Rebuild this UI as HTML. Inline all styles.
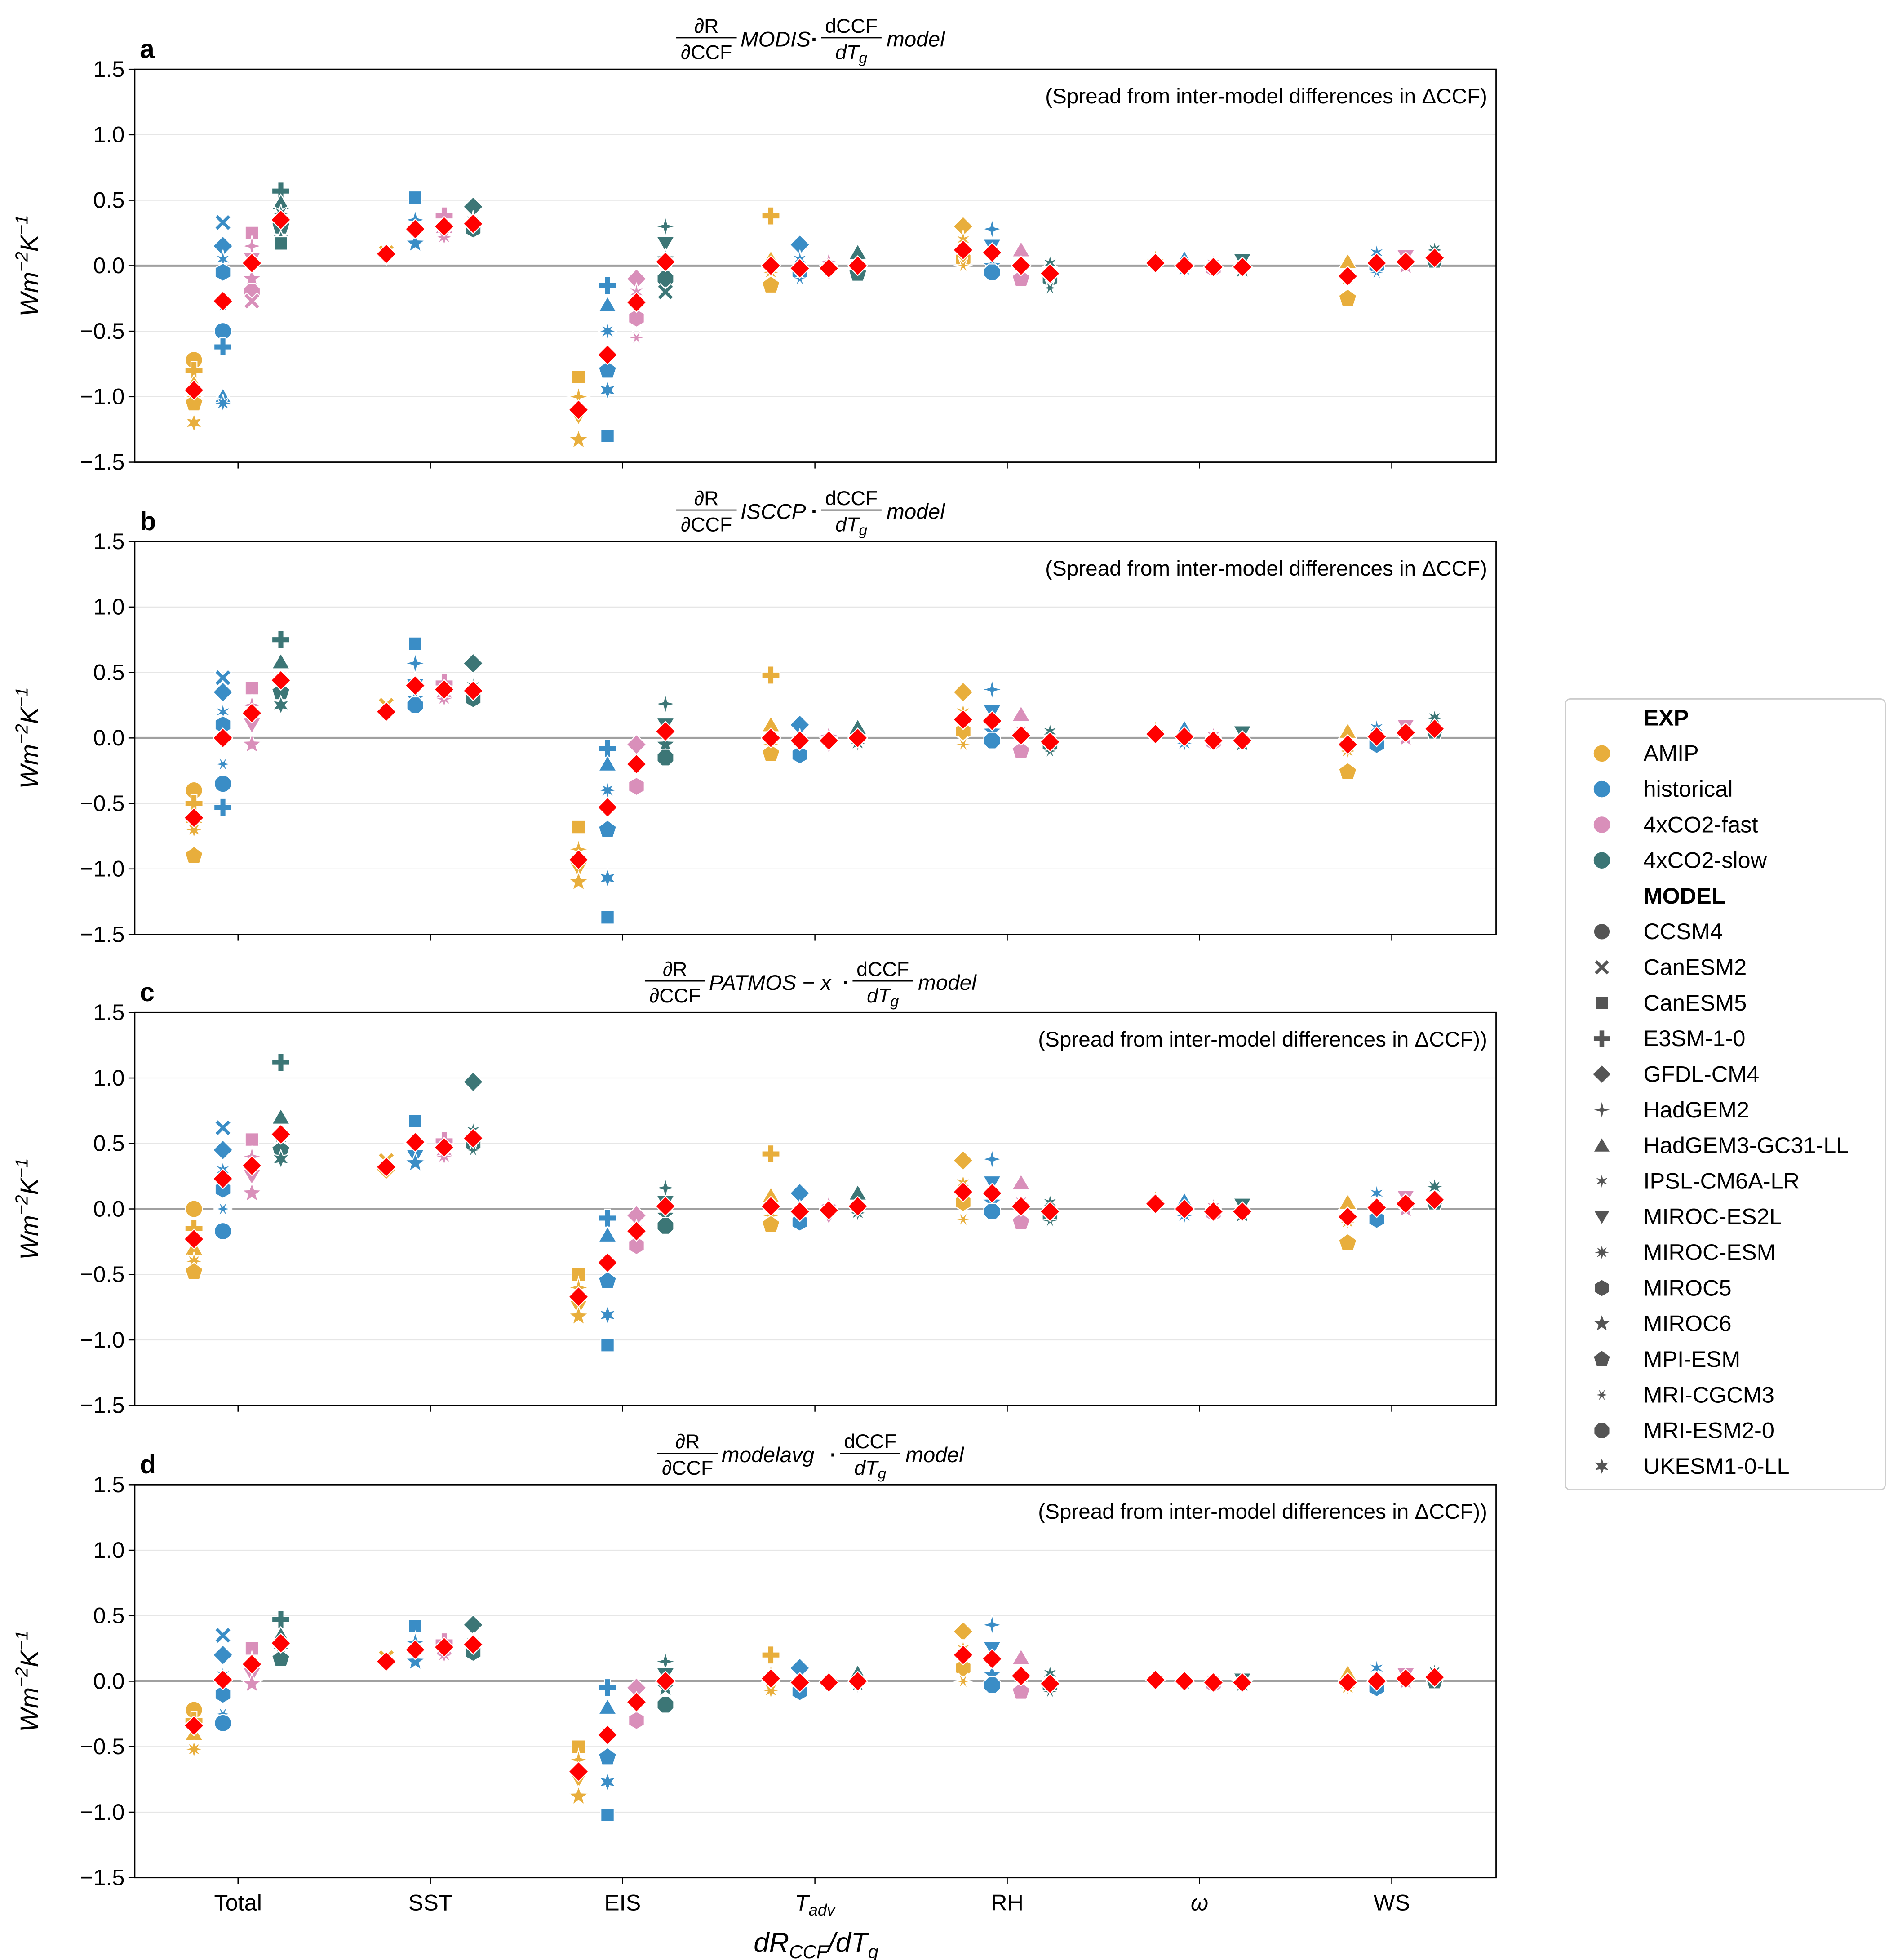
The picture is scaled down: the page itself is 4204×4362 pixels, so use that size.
<!DOCTYPE html>
<html><head><meta charset="utf-8"><style>
html,body{margin:0;padding:0;background:#fff}
svg{display:block;font-family:"Liberation Sans","DejaVu Sans",sans-serif}
</style></head><body>
<svg id="chart" width="4204" height="4362" viewBox="0 0 1500 1556.4" xmlns="http://www.w3.org/2000/svg"></svg>
<script>
const categories=["Total","SST","EIS","Tadv","RH","omega","WS"];
const experiments=["AMIP","historical","4xCO2-fast","4xCO2-slow"];
const models=["CCSM4","CanESM2","CanESM5","E3SM-1-0","GFDL-CM4","HadGEM2","HadGEM3-GC31-LL","IPSL-CM6A-LR","MIROC-ES2L","MIROC-ESM","MIROC5","MIROC6","MPI-ESM","MRI-CGCM3","MRI-ESM2-0","UKESM1-0-LL"];
const yTicks=[1.5,1.0,0.5,0.0,-0.5,-1.0,-1.5];
const panelLetters=["a","b","c","d"];
const panelSources=["MODIS","ISCCP","PATMOS − x","modelavg"];
const spreadNotes=["(Spread from inter-model differences in ΔCCF)","(Spread from inter-model differences in ΔCCF)","(Spread from inter-model differences in ΔCCF))","(Spread from inter-model differences in ΔCCF))"];
const meansA=[[-0.95,-0.27,0.02,0.35],[0.09,0.28,0.30,0.32],[-1.10,-0.68,-0.28,0.03],[0.0,-0.02,-0.02,0.0],[0.12,0.10,0.0,-0.06],[0.02,0.0,-0.01,-0.01],[-0.08,0.02,0.03,0.06]];
const meansB=[[-0.61,0.0,0.19,0.44],[0.2,0.4,0.37,0.36],[-0.93,-0.53,-0.2,0.05],[0.0,-0.02,-0.02,0.0],[0.14,0.13,0.02,-0.03],[0.03,0.01,-0.02,-0.02],[-0.05,0.01,0.04,0.07]];
const meansC=[[-0.23,0.23,0.33,0.57],[0.32,0.51,0.47,0.54],[-0.67,-0.41,-0.17,0.02],[0.02,-0.02,-0.01,0.02],[0.13,0.12,0.02,-0.02],[0.04,0.0,-0.02,-0.02],[-0.06,0.01,0.04,0.07]];
const meansD=[[-0.34,0.01,0.13,0.29],[0.15,0.24,0.26,0.28],[-0.69,-0.41,-0.16,0.0],[0.02,-0.01,-0.01,0.0],[0.2,0.17,0.04,-0.02],[0.01,0.0,-0.01,-0.01],[-0.01,0.0,0.02,0.03]];
const pointsA=[
[[-0.72,-0.8,-0.9,-1.0,-1.05,-1.2],[0.33,0.15,0.05,-0.05,-0.3,-0.5,-0.62,-1.0,-1.05],[0.25,0.15,0.05,-0.1,-0.2,-0.27],[0.57,0.48,0.4,0.3,0.2,0.17]],
[[0.1,0.08],[0.52,0.35,0.25,0.17],[0.38,0.3,0.22],[0.45,0.35,0.28]],
[[-0.85,-1.0,-1.15,-1.33],[-0.15,-0.3,-0.5,-0.8,-0.95,-1.3],[-0.1,-0.2,-0.4,-0.55],[0.3,0.17,0.05,-0.1,-0.2]],
[[0.38,0.05,-0.05,-0.15],[0.16,0.05,-0.05,-0.1],[0.03,-0.05],[0.1,0.0,-0.06]],
[[0.3,0.2,0.05,0.0],[0.28,0.15,0.0,-0.05],[0.12,0.0,-0.1],[0.02,-0.1,-0.17]],
[[0.05,0.0],[0.05,-0.03],[0.02,-0.02],[0.04,-0.03]],
[[0.03,-0.1,-0.25],[0.1,0.0,-0.05],[0.07,0.0],[0.12,0.04]]];
const pointsB=[
[[-0.4,-0.5,-0.6,-0.7,-0.9],[0.46,0.35,0.2,0.1,-0.2,-0.35,-0.53],[0.38,0.25,0.1,-0.05],[0.75,0.58,0.45,0.35,0.25]],
[[0.25,0.2],[0.72,0.57,0.4,0.3,0.25],[0.42,0.35,0.3],[0.57,0.4,0.3]],
[[-0.68,-0.85,-1.0,-1.1],[-0.08,-0.2,-0.4,-0.7,-1.07,-1.37],[-0.05,-0.2,-0.37],[0.26,0.1,-0.05,-0.15]],
[[0.48,0.1,-0.05,-0.12],[0.1,0.0,-0.13],[0.02,-0.05],[0.08,-0.04]],
[[0.35,0.2,0.05,-0.05],[0.37,0.2,0.05,-0.02],[0.18,0.05,-0.1],[0.05,-0.05,-0.1]],
[[0.06,0.01],[0.07,-0.04],[0.02,-0.03],[0.04,-0.04]],
[[0.05,-0.1,-0.26],[0.08,-0.05],[0.09,0.0],[0.15,0.05]]];
const pointsC=[
[[0.0,-0.15,-0.3,-0.4,-0.48],[0.62,0.45,0.3,0.15,0.0,-0.17],[0.53,0.4,0.25,0.12],[1.12,0.7,0.55,0.45,0.38]],
[[0.37,0.3],[0.67,0.5,0.4,0.35],[0.52,0.45,0.4],[0.97,0.6,0.5,0.45]],
[[-0.5,-0.6,-0.75,-0.82],[-0.07,-0.2,-0.4,-0.55,-0.81,-1.04],[-0.05,-0.15,-0.28],[0.16,0.05,-0.05,-0.13]],
[[0.42,0.1,-0.05,-0.12],[0.12,0.0,-0.1],[0.03,-0.05],[0.12,-0.03]],
[[0.37,0.2,0.05,-0.08],[0.38,0.2,0.05,-0.02],[0.2,0.05,-0.1],[0.05,-0.05,-0.09]],
[[0.07,0.02],[0.06,-0.05],[0.02,-0.03],[0.03,-0.04]],
[[0.05,-0.1,-0.26],[0.12,-0.08],[0.09,0.0],[0.17,0.05]]];
const pointsD=[
[[-0.22,-0.3,-0.4,-0.52],[0.35,0.2,0.05,-0.1,-0.25,-0.32],[0.25,0.15,0.05,-0.02],[0.47,0.35,0.25,0.17]],
[[0.18,0.14],[0.42,0.3,0.2,0.15],[0.3,0.25,0.2],[0.43,0.3,0.22]],
[[-0.5,-0.6,-0.75,-0.88],[-0.05,-0.2,-0.4,-0.58,-0.77,-1.02],[-0.05,-0.15,-0.3],[0.15,0.05,-0.05,-0.18]],
[[0.2,0.05,-0.07],[0.1,0.0,-0.08],[0.02,-0.03],[0.06,-0.03]],
[[0.38,0.25,0.1,0.0],[0.43,0.25,0.05,-0.03],[0.18,0.05,-0.08],[0.06,-0.03,-0.08]],
[[0.02,-0.01],[0.02,-0.02],[0.01,-0.02],[0.01,-0.02]],
[[0.06,-0.05],[0.1,-0.05],[0.05,0.0],[0.07,0.0]]];

const allMeans=[meansA,meansB,meansC,meansD];
const allPoints=[pointsA,pointsB,pointsC,pointsD];
const colors=["#E8AE3C","#3A8DC6","#D98FBA","#3C7676"];
const NS="http://www.w3.org/2000/svg";
const svg=document.getElementById("chart");
const L=107,R=1188,panelTops=[55,430,804,1179],PH=312;
const catX0=189,catDX=152.7,expOff=[-35,-12,11,34];
function xPos(ci,ei){return catX0+ci*catDX+expOff[ei];}
function yPos(top,v){return top+(1.5-v)/3*PH;}
function el(tag,attrs,parent){const e=document.createElementNS(NS,tag);for(const k in attrs)e.setAttribute(k,attrs[k]);(parent||svg).appendChild(e);return e;}
function starPath(cx,cy,n,ro,ri,rot){let d="";for(let i=0;i<2*n;i++){const r=i%2?ri:ro;const a=rot+Math.PI*i/n;d+=(i?"L":"M")+(cx+r*Math.sin(a)).toFixed(2)+","+(cy-r*Math.cos(a)).toFixed(2);}return d+"Z";}
function polyPath(cx,cy,n,r,rot){let d="";for(let i=0;i<n;i++){const a=rot+2*Math.PI*i/n;d+=(i?"L":"M")+(cx+r*Math.sin(a)).toFixed(2)+","+(cy-r*Math.cos(a)).toFixed(2);}return d+"Z";}
function markerPath(k,cx,cy,s){
 switch(k%16){
 case 0:return null;
 case 1:{const a=s*0.95,w=s*0.35;return `M${cx-a},${cy-a+w}L${cx-a+w},${cy-a}L${cx},${cy-w}L${cx+a-w},${cy-a}L${cx+a},${cy-a+w}L${cx+w},${cy}L${cx+a},${cy+a-w}L${cx+a-w},${cy+a}L${cx},${cy+w}L${cx-a+w},${cy+a}L${cx-a},${cy+a-w}L${cx-w},${cy}Z`;}
 case 2:return polyPath(cx,cy,4,s*1.1,Math.PI/4);
 case 3:{const a=s*1.05,w=s*0.35;return `M${cx-w},${cy-a}H${cx+w}V${cy-w}H${cx+a}V${cy+w}H${cx+w}V${cy+a}H${cx-w}V${cy+w}H${cx-a}V${cy-w}H${cx-w}Z`;}
 case 4:return polyPath(cx,cy,4,s*1.15,0);
 case 5:return starPath(cx,cy,4,s*1.2,s*0.35,0);
 case 6:return polyPath(cx,cy+s*0.2,3,s*1.2,0);
 case 7:return starPath(cx,cy,6,s*1.1,s*0.35,0);
 case 8:return polyPath(cx,cy-s*0.2,3,s*1.2,Math.PI);
 case 9:return starPath(cx,cy,8,s*1.1,s*0.45,0);
 case 10:return polyPath(cx,cy,6,s*1.05,0);
 case 11:return starPath(cx,cy,5,s*1.2,s*0.5,0);
 case 12:return polyPath(cx,cy,5,s*1.1,0);
 case 13:return starPath(cx,cy,6,s*1.1,s*0.3,Math.PI/6);
 case 14:return polyPath(cx,cy,8,s*1.05,Math.PI/8);
 default:return starPath(cx,cy,6,s*1.1,s*0.5,0);
 }}
function drawMarker(k,cx,cy,s,fill,stroke,parent,name){
 const p=markerPath(k,cx,cy,s);let m;
 if(p===null)m=el("circle",{cx:cx,cy:cy,r:s},parent);else m=el("path",{d:p},parent);
 m.setAttribute("fill",fill);m.setAttribute("stroke",stroke);m.setAttribute("stroke-width","0.8");
 
 
 return m;}
function fracTitle(g,x,y,num,den,size){
 el("text",{x:x,y:y-4,"text-anchor":"middle","font-size":size},g).textContent=num;
 el("line",{x1:x-size*1.5,x2:x+size*1.5,y1:y,y2:y,stroke:"#000","stroke-width":0.9},g);
 const t=el("text",{x:x,y:y+size+1,"text-anchor":"middle","font-size":size},g);return t;}

allMeans.forEach((means,pi)=>{
 const top=panelTops[pi];
 const g=el("g",{});
 
 
 yTicks.forEach(v=>{
  const y=yPos(top,v);
  const gl=el("line",{x1:L,x2:R,y1:y,y2:y,stroke:v===0?"#a0a0a0":"#e6e6e6","stroke-width":v===0?1.8:0.8},g);
  
  
  el("line",{x1:L-5,x2:L,y1:y,y2:y,stroke:"#000","stroke-width":0.9},g);
  const t=el("text",{x:L-8,y:y+6,"text-anchor":"end","font-size":18},g);
  t.textContent=(v<0?"−":"")+Math.abs(v).toFixed(1);
  
  
 });
 categories.forEach((c,ci)=>{const x=catX0+ci*catDX;el("line",{x1:x,x2:x,y1:top+PH,y2:top+PH+5,stroke:"#000","stroke-width":0.9},g);});
 allPoints[pi].forEach((cat,ci)=>{cat.forEach((vals,ei)=>{vals.forEach((v,k)=>{
   drawMarker((k*3+ci+ei)%16,xPos(ci,ei),yPos(top,v),6.8,colors[ei],"#fff",g,'model-point');
 });});});
 means.forEach((row,ci)=>{row.forEach((v,ei)=>{
   drawMarker(4,xPos(ci,ei),yPos(top,v),6.8,"#ff0000","#fff",g,'mean-diamond');
 });});
 const frame=el("rect",{x:L,y:top,width:R-L,height:PH,fill:"none",stroke:"#000","stroke-width":1},g);
 
 
 const lab=el("text",{x:111,y:top-9,"font-size":21,"font-weight":"bold"},g);lab.textContent=panelLetters[pi];
 
 
 const note=el("text",{x:R-7,y:top+27,"text-anchor":"end","font-size":17},g);note.textContent=spreadNotes[pi];
 
 
 const tg=el("g",{},g);
 
 
 const src=panelSources[pi];const srcW=src.length*10;
 const cx=648,ty=top-25;
 const total=52+srcW+16+52+50;let x0=cx-total/2;
 fracTitle(tg,x0+23,ty,"∂R",0,16).textContent="∂CCF";
 el("text",{x:x0+50,y:ty+7,"font-size":17,"font-style":"italic"},tg).textContent=src;
 el("text",{x:x0+56+srcW,y:ty+7,"font-size":17,"font-weight":"bold"},tg).textContent="·";
 const d=fracTitle(tg,x0+88+srcW,ty,"dCCF",0,16);d.setAttribute("font-style","italic");d.innerHTML='dT<tspan font-size="12" dy="3">g</tspan>';
 el("text",{x:x0+116+srcW,y:ty+7,"font-size":17,"font-style":"italic"},tg).textContent="model";
 const yl=el("text",{x:0,y:0,"font-size":20,"font-style":"italic","text-anchor":"middle",transform:`translate(30,${top+PH/2}) rotate(-90)`},g);
 yl.innerHTML='Wm<tspan font-size="14" dy="-8">−2</tspan><tspan dy="8">K</tspan><tspan font-size="14" dy="-8">−1</tspan>';
 
 
});
const xl=["Total","SST","EIS",'<tspan font-style="italic">T</tspan><tspan font-style="italic" font-size="13" dy="4">adv</tspan>',"RH",'<tspan font-style="italic">ω</tspan>',"WS"];
categories.forEach((c,ci)=>{const t=el("text",{x:catX0+ci*catDX,y:1517,"text-anchor":"middle","font-size":18});t.innerHTML=xl[ci];
 
 });
const xt=el("text",{x:648,y:1550,"text-anchor":"middle","font-size":22,"font-style":"italic"});
xt.innerHTML='dR<tspan font-size="15" dy="5">CCF</tspan><tspan dy="-5">/dT</tspan><tspan font-size="15" dy="5">g</tspan>';


const lg=el("g",{});


el("rect",{x:1243,y:555,width:254,height:628,rx:4,fill:"#fff",stroke:"#ccc","stroke-width":1},lg);
let ly=570;const step=28.3;
function legText(txt,y,bold){const t=el("text",{x:1305,y:y+6,"font-size":18,"font-weight":bold?"bold":"normal"},lg);t.textContent=txt;return t;}
legText("EXP",ly,true);ly+=step;
experiments.forEach((e,i)=>{const c=el("circle",{cx:1272,cy:ly,r:7,fill:colors[i],stroke:"#fff"},lg);
 
 
 const t=legText(e,ly,false);
 
 
 ly+=step;});
legText("MODEL",ly,true);ly+=step;
models.forEach((m,i)=>{drawMarker(i,1272,ly,6.5,"#555","#fff",lg,'legend-marker');
 const t=legText(m,ly,false);
 
 
 ly+=step;});
</script>
</body></html>
